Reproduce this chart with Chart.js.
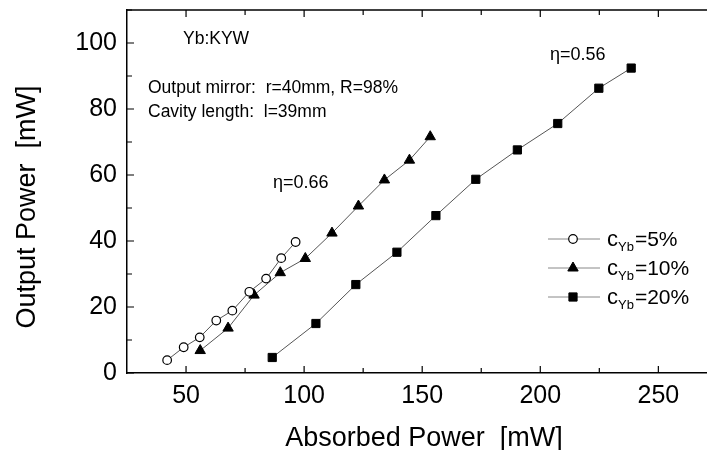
<!DOCTYPE html>
<html>
<head>
<meta charset="utf-8">
<script src="https://cdn.jsdelivr.net/npm/chart.js@4.4.1/dist/chart.umd.min.js"></script>
<style>
  html, body { margin: 0; padding: 0; background: #fff; }
  #wrap { width: 707px; height: 450px; position: relative; }
</style>
</head>
<body>
<div id="wrap"><canvas id="c" width="707" height="450"></canvas></div>
<script>
// ---- data ----
const absorbed5 = [42.0, 49.0, 55.8, 62.8, 69.6, 76.8, 83.9, 90.3, 96.4];
const output5   = [3.9, 7.8, 10.8, 15.9, 18.9, 24.6, 28.6, 34.8, 39.7];

const absorbed10 = [56.0, 67.8, 78.8, 89.9, 100.5, 111.8, 123.0, 134.0, 144.6, 153.4];
const output10   = [6.8, 13.6, 23.6, 30.4, 34.7, 42.4, 50.6, 58.5, 64.5, 71.6];

const absorbed20 = [86.5, 105.0, 121.9, 139.3, 155.8, 172.7, 190.3, 207.4, 224.8, 238.5];
const output20   = [4.7, 15.0, 26.8, 36.6, 47.7, 58.7, 67.6, 75.6, 86.3, 92.4];

const xTickValues = [50, 75, 100, 125, 150, 175, 200, 225, 250];
const yTickValues = [0, 10, 20, 30, 40, 50, 60, 70, 80, 90, 100, 110];
const seriesLabels = ['5%', '10%', '20%'];

const FONT = '"Liberation Sans", Arial, Helvetica, sans-serif';

function pts(xs, ys) { return xs.map((x, i) => ({ x: x, y: ys[i] })); }

const datasets = [
  { label: 'cYb=' + seriesLabels[0], data: pts(absorbed5, output5), showLine: true,
    borderColor: '#555', borderWidth: 1, pointStyle: 'circle', pointRadius: 4.3,
    pointBackgroundColor: '#fff', pointBorderColor: '#000', pointBorderWidth: 1.2 },
  { label: 'cYb=' + seriesLabels[1], data: pts(absorbed10, output10), showLine: true,
    borderColor: '#555', borderWidth: 1, pointStyle: 'triangle', pointRadius: 6,
    pointBackgroundColor: '#000', pointBorderColor: '#000', pointBorderWidth: 1 },
  { label: 'cYb=' + seriesLabels[2], data: pts(absorbed20, output20), showLine: true,
    borderColor: '#555', borderWidth: 1, pointStyle: 'rect', pointRadius: 5.8,
    pointBackgroundColor: '#000', pointBorderColor: '#000', pointBorderWidth: 1 }
];

const decorPlugin = {
  id: 'decor',
  afterDraw(chart) {
    const ctx = chart.ctx;
    const a = chart.chartArea;
    const xs = chart.scales.x, ys = chart.scales.y;
    ctx.save();
    // top frame line
    ctx.strokeStyle = '#000';
    ctx.lineWidth = 1.5;
    ctx.beginPath();
    ctx.moveTo(a.left, a.top);
    ctx.lineTo(a.right, a.top);
    ctx.stroke();
    // inward tick marks
    ctx.lineWidth = 1.2;
    ctx.beginPath();
    xs.ticks.forEach(t => {
      const px = xs.getPixelForValue(t.value);
      const len = (t.value % 50 === 0) ? 7 : 5;
      ctx.moveTo(px, a.bottom); ctx.lineTo(px, a.bottom - len);
      ctx.moveTo(px, a.top); ctx.lineTo(px, a.top + len);
    });
    ys.ticks.forEach(t => {
      const py = ys.getPixelForValue(t.value);
      const len = (t.value % 20 === 0) ? 7 : 5;
      ctx.moveTo(a.left, py); ctx.lineTo(a.left + len, py);
    });
    ctx.stroke();

    ctx.fillStyle = '#000';
    // axis titles
    ctx.font = '27px ' + FONT;
    ctx.textAlign = 'center';
    ctx.textBaseline = 'alphabetic';
    ctx.fillText('Absorbed Power  [mW]', 424, 446);
    ctx.save();
    ctx.translate(35, 207);
    ctx.rotate(-Math.PI / 2);
    ctx.fillText('Output Power  [mW]', 0, 0);
    ctx.restore();

    // annotations
    ctx.font = '17.5px ' + FONT;
    ctx.textAlign = 'left';
    ctx.fillText('Yb:KYW', 183, 43.5);
    ctx.fillText('Output mirror:  r=40mm, R=98%', 148, 93);
    ctx.fillText('Cavity length:  l=39mm', 148, 117);
    ctx.font = '18px ' + FONT;
    ctx.fillText('\u03B7=0.66', 273, 188);
    ctx.fillText('\u03B7=0.56', 550, 60);

    // legend
    const rows = [239, 268, 297];
    chart.data.datasets.forEach((ds, i) => {
      const y = rows[i];
      ctx.strokeStyle = '#888';
      ctx.lineWidth = 1;
      ctx.beginPath();
      ctx.moveTo(548, y); ctx.lineTo(600, y);
      ctx.stroke();
      ctx.fillStyle = ds.pointBackgroundColor;
      ctx.strokeStyle = ds.pointBorderColor;
      ctx.lineWidth = ds.pointBorderWidth;
      Chart.helpers.drawPoint(ctx, { pointStyle: ds.pointStyle, radius: ds.pointRadius, borderWidth: ds.pointBorderWidth, rotation: 0 }, 573, y);
      ctx.fillStyle = '#000';
      ctx.font = '22px ' + FONT;
      ctx.fillText('c', 607, y + 7);
      const cw = ctx.measureText('c').width;
      ctx.font = '13px ' + FONT;
      ctx.fillText('Yb', 607 + cw, y + 12);
      const sw = ctx.measureText('Yb').width;
      ctx.font = '21px ' + FONT;
      ctx.fillText('=' + seriesLabels[i], 607 + cw + sw + 1, y + 7);
    });
    ctx.restore();
  }
};

new Chart(document.getElementById('c'), {
  type: 'scatter',
  data: { datasets: datasets },
  options: {
    responsive: false,
    animation: false,
    devicePixelRatio: 1,
    layout: { autoPadding: false, padding: { top: 10, right: 0, left: 0, bottom: 0 } },
    plugins: { legend: { display: false }, tooltip: { enabled: false } },
    scales: {
      x: {
        type: 'linear', min: 25, max: 270.6,
        afterFit: s => { s.height = 77; s.paddingLeft = 0; s.paddingRight = 0; },
        afterBuildTicks: s => { s.ticks = xTickValues.map(v => ({ value: v })); },
        grid: { display: false, drawTicks: false },
        border: { display: true, color: '#000', width: 1.5 },
        ticks: { autoSkip: false, maxRotation: 0, padding: 8, color: '#000',
          font: { family: FONT, size: 25 },
          callback: v => (v % 50 === 0 ? String(v) : '') }
      },
      y: {
        type: 'linear', min: 0, max: 110,
        afterFit: s => { s.width = 127; s.paddingTop = 0; s.paddingBottom = 0; },
        afterBuildTicks: s => { s.ticks = yTickValues.map(v => ({ value: v })); },
        grid: { display: false, drawTicks: false },
        border: { display: true, color: '#000', width: 1.5 },
        ticks: { autoSkip: false, padding: 10, color: '#000',
          font: { family: FONT, size: 25 },
          callback: v => (v % 20 === 0 && v <= 100 ? String(v) : '') }
      }
    }
  },
  plugins: [decorPlugin]
});
</script>
</body>
</html>
